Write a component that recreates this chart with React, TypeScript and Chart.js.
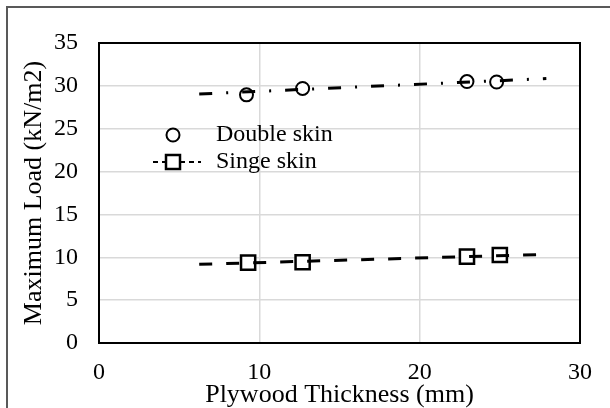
import React, { useEffect, useRef } from "react";
import { Chart, registerables } from "chart.js";

Chart.register(...registerables);

const doubleX = [9.2, 12.7, 22.95, 24.8];
const doubleY = [28.95, 29.7, 30.5, 30.45];
const singleX = [9.3, 12.7, 22.95, 25.0];
const singleY = [9.37, 9.42, 10.07, 10.27];
const doubleTrendX = [6.25, 27.9];
const doubleTrendY = [29.05, 30.85];
const singleTrendX = [6.25, 28.0];
const singleTrendY = [9.18, 10.35];
const legendLabels = ["Double skin", "Singe skin"];
const xTitle = "Plywood Thickness (mm)";
const yTitle = "Maximum Load (kN/m2)";

const FONT = "'Liberation Serif', 'Times New Roman', serif";

const pts = (xs: number[], ys: number[]) => xs.map((x, i) => ({ x, y: ys[i] }));

const framePlugin = {
  id: "frame",
  beforeDraw(chart: any) {
    const ctx = chart.ctx;
    ctx.save();
    ctx.strokeStyle = "#595959";
    ctx.lineWidth = 2;
    ctx.beginPath();
    ctx.moveTo(7, 420);
    ctx.lineTo(7, 7);
    ctx.lineTo(620, 7);
    ctx.stroke();
    ctx.restore();
  },
  afterDraw(chart: any) {
    const { ctx, chartArea: a } = chart;
    ctx.save();
    ctx.strokeStyle = "#000";
    ctx.lineWidth = 2;
    ctx.strokeRect(a.left, a.top, a.right - a.left, a.bottom - a.top);
    // legend
    const lx = a.left + 74;
    const ly1 = a.top + 92;
    const ly2 = a.top + 119;
    ctx.fillStyle = "#fff";
    ctx.lineWidth = 2;
    ctx.beginPath();
    ctx.arc(lx, ly1, 6.5, 0, Math.PI * 2);
    ctx.fill();
    ctx.stroke();
    ctx.setLineDash([5, 4]);
    ctx.beginPath();
    ctx.moveTo(lx - 20, ly2);
    ctx.lineTo(lx + 28, ly2);
    ctx.stroke();
    ctx.setLineDash([]);
    ctx.lineWidth = 2.5;
    ctx.fillRect(lx - 7, ly2 - 7, 14, 14);
    ctx.strokeRect(lx - 7, ly2 - 7, 14, 14);
    ctx.fillStyle = "#000";
    ctx.font = `24px ${FONT}`;
    ctx.textBaseline = "middle";
    ctx.textAlign = "left";
    ctx.fillText(legendLabels[0], lx + 43, ly1);
    ctx.fillText(legendLabels[1], lx + 43, ly2);
    ctx.restore();
  },
};

export default function App() {
  const ref = useRef<HTMLCanvasElement | null>(null);
  useEffect(() => {
    if (!ref.current) return;
    const chart = new Chart(ref.current, {
      type: "scatter",
      data: {
        datasets: [
          {
            label: legendLabels[0],
            data: pts(doubleX, doubleY),
            pointStyle: "circle",
            pointRadius: 6.5,
            pointBorderWidth: 2,
            pointBackgroundColor: "#fff",
            pointBorderColor: "#000",
            showLine: false,
            order: 2,
          },
          {
            label: legendLabels[1],
            data: pts(singleX, singleY),
            pointStyle: "rect",
            pointRadius: 10,
            pointBorderWidth: 2.5,
            pointBackgroundColor: "#fff",
            pointBorderColor: "#000",
            showLine: false,
            order: 2,
          },
          {
            label: "trend1",
            data: pts(doubleTrendX, doubleTrendY),
            showLine: true,
            pointRadius: 0,
            borderColor: "#000",
            borderWidth: 3,
            borderDash: [13, 14, 2, 14],
            borderCapStyle: "butt",
            order: 1,
          },
          {
            label: "trend2",
            data: pts(singleTrendX, singleTrendY),
            showLine: true,
            pointRadius: 0,
            borderColor: "#000",
            borderWidth: 3,
            borderDash: [13, 14],
            borderCapStyle: "butt",
            order: 1,
          },
        ],
      },
      options: {
        responsive: false,
        animation: false,
        devicePixelRatio: 1,
        layout: { padding: { top: 43, right: 22, left: 0, bottom: 0 } },
        plugins: { legend: { display: false }, tooltip: { enabled: false } },
        scales: {
          x: {
            type: "linear",
            min: 0,
            max: 30,
            ticks: { stepSize: 10, padding: 18, color: "#000", font: { family: FONT, size: 24, lineHeight: 1 } },
            grid: { color: "#d9d9d9", lineWidth: 1.5, drawTicks: false },
            border: { display: false },
            title: {
              display: true,
              text: xTitle,
              color: "#000",
              font: { family: FONT, size: 26, lineHeight: 1 },
              padding: { top: 0, bottom: 0 },
            },
            afterFit(scale: any) {
              scale.height = 65;
            },
          },
          y: {
            type: "linear",
            min: 0,
            max: 35,
            ticks: { stepSize: 5, padding: 21, color: "#000", font: { family: FONT, size: 24, lineHeight: 1 } },
            grid: { color: "#d9d9d9", lineWidth: 1.5, drawTicks: false },
            border: { display: false },
            title: {
              display: true,
              text: yTitle,
              color: "#000",
              font: { family: FONT, size: 26, lineHeight: 1 },
              padding: { top: 21, bottom: 0 },
            },
            afterFit(scale: any) {
              scale.width = 99;
            },
          },
        },
      },
      plugins: [framePlugin],
    });
    return () => chart.destroy();
  }, []);
  return (
    <div style={{ position: "fixed", left: 0, top: 0, width: 610, height: 408, background: "#fff" }}>
      <canvas ref={ref} width={610} height={408} style={{ display: "block" }} />
    </div>
  );
}
